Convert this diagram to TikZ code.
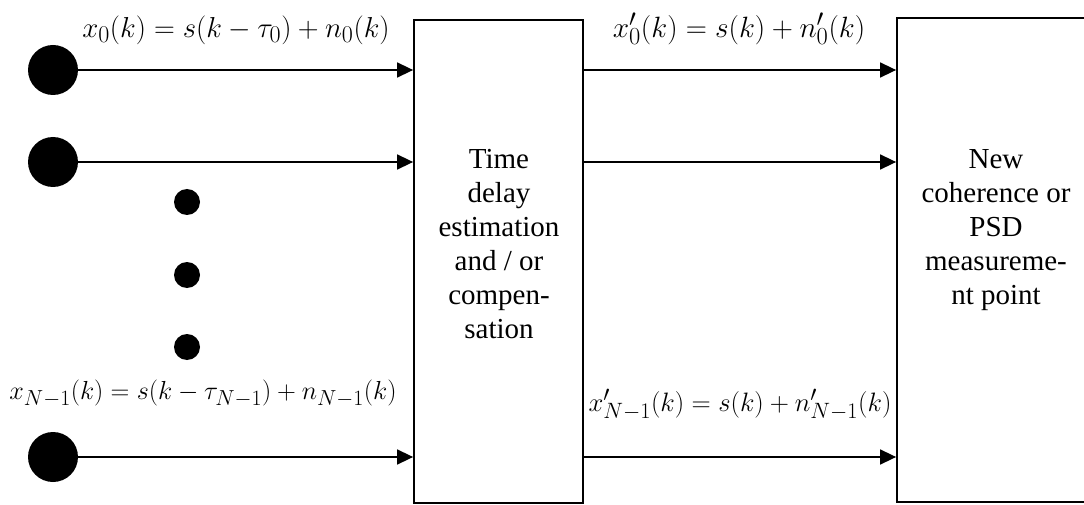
\documentclass[tikz,border=0pt]{standalone}
\usepackage{fontspec}
\setmainfont{Liberation Serif}
\usetikzlibrary{arrows.meta, positioning}
\newcommand{\sigeq}[2]{\scalebox{#1}{$#2$}}

\begin{document}
\begin{tikzpicture}[x=1pt, y=-1pt, font=\fontsize{29}{34}\selectfont,
    blk/.style={draw, line width=1.8pt, inner sep=0pt},
    sig/.style={line width=1.6pt, -{Triangle[length=16pt, width=15pt]}},
    src/.style={circle, fill, inner sep=0pt, minimum size=50pt},
    gap/.style={circle, fill, inner sep=0pt, minimum size=26pt}]
    \useasboundingbox (0,0) rectangle (1084,505);
    \clip (0,0) rectangle (1084,505);

    % Blocks
    \node[blk, minimum width=169pt, minimum height=483pt] (tde) at (498.5,261.5) {};
    \node[blk, minimum width=203pt, minimum height=484pt] (psd) at (998.5,260) {};
    \node[align=center] (tdetxt) at (499,244) {Time\\delay\\estimation\\and / or\\compen-\\sation};
    \node[align=center] (psdtxt) at (996,230) {New\\coherence or\\PSD\\measureme-\\nt point};

    % Sensors
    \node[src] (s0) at (53,70) {};
    \node[src] (s1) at (53,162) {};
    \node[src] (sN) at (53,457) {};
    \foreach \i/\y in {1/202, 2/275, 3/347}
        \node[gap] (d\i) at (187,\y) {};

    % Signal lines
    \foreach \s in {s0, s1, sN} {
        \draw[sig] (\s.center) -- (\s -| tde.west);
        \draw[sig] (\s -| tde.east) -- (\s -| psd.west);
    }

    % Labels
    \node (x0) at (236,30) {\sigeq{1.16}{x_0(k) = s(k-\tau_0)+n_0(k)}};
    \node (xN) at (203,394) {\sigeq{1.05}{x_{N-1}(k) = s(k-\tau_{N-1})+n_{N-1}(k)}};
    \node (y0) at (739,29) {\sigeq{1.18}{x'_0(k) = s(k)+n'_0(k)}};
    \node (yN) at (740,405) {\sigeq{1.07}{x'_{N-1}(k) = s(k)+n'_{N-1}(k)}};
\end{tikzpicture}
\end{document}
